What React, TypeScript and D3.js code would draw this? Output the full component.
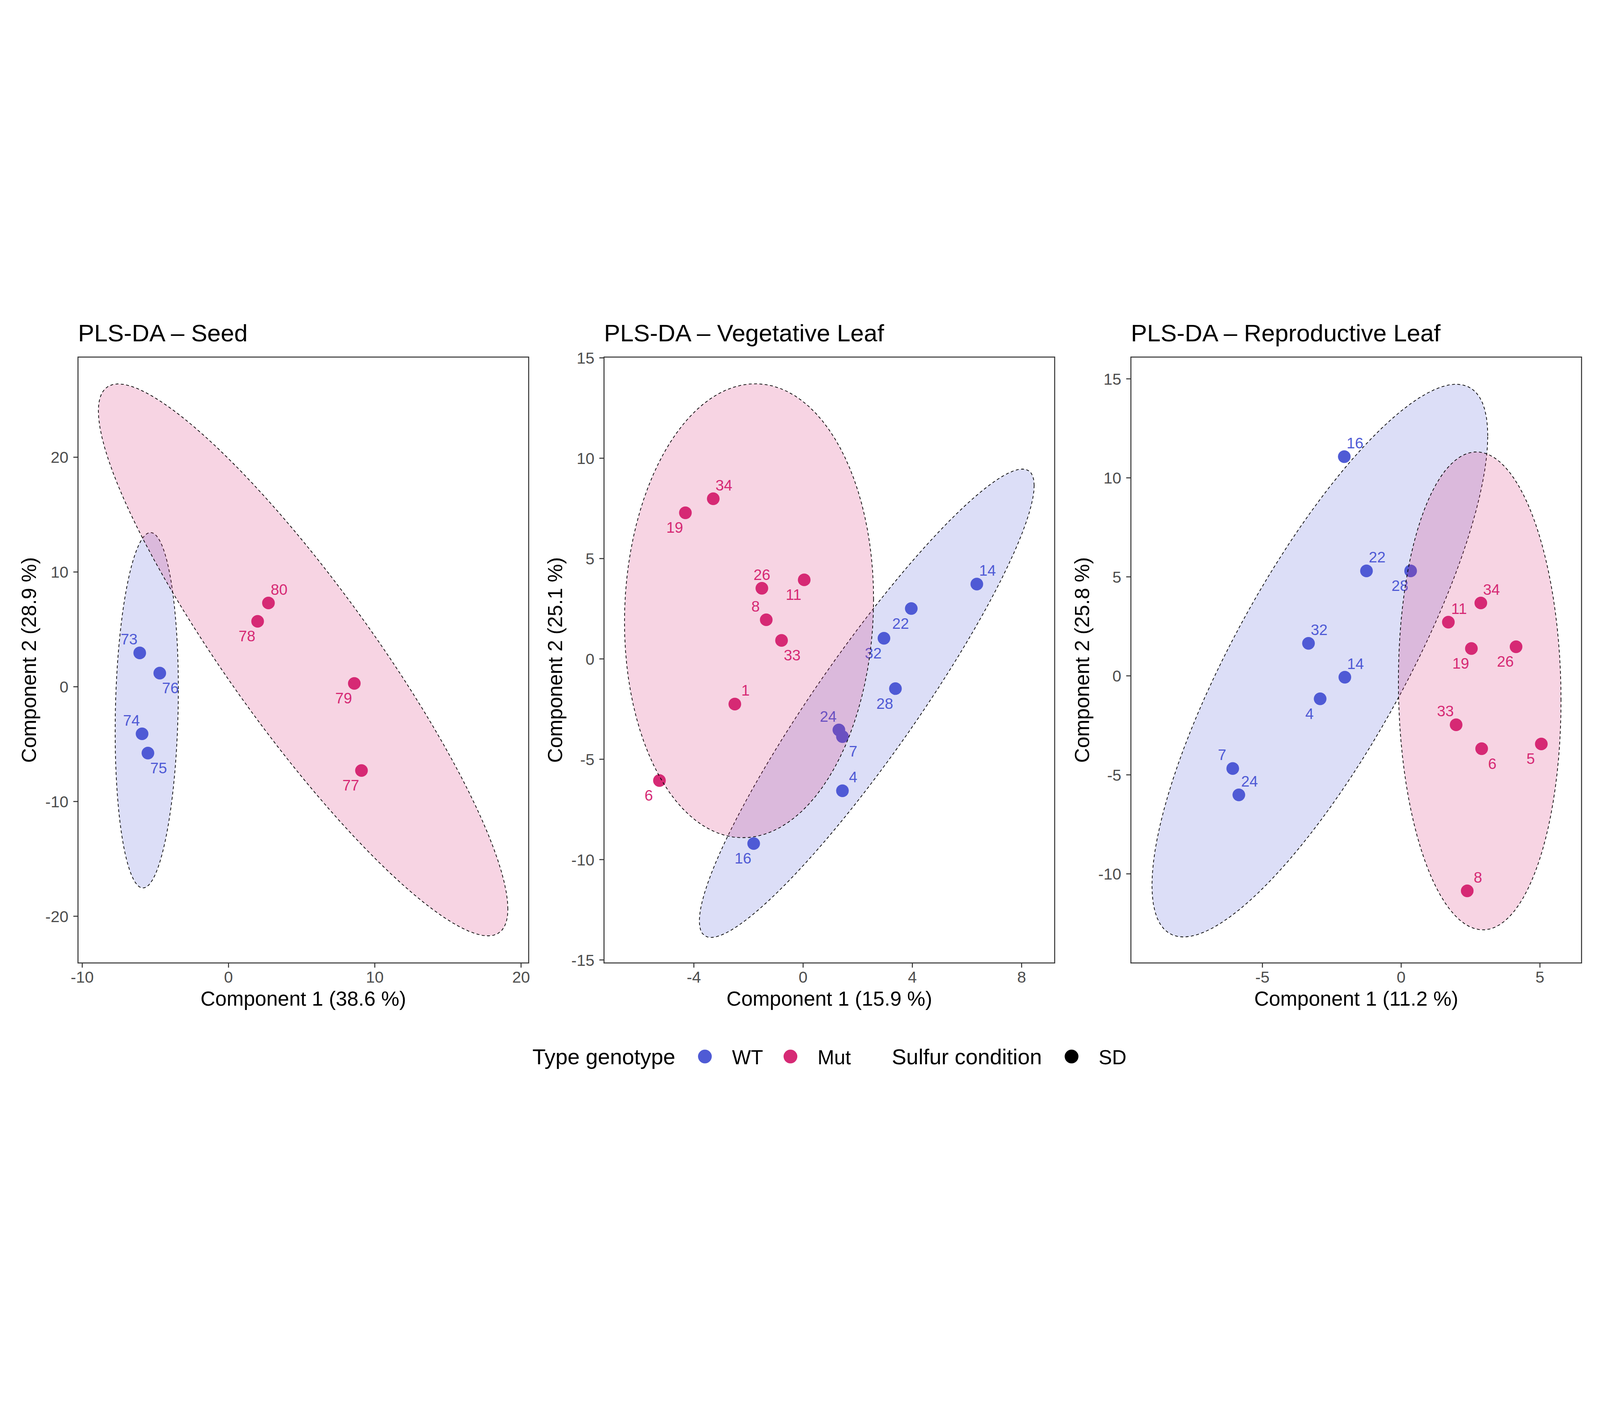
import * as d3 from 'd3';
import React from 'react';

// Sample scores
const seedIds = ['73', '76', '74', '75', '80', '78', '79', '77'];
const seedGenotype = ['WT', 'WT', 'WT', 'WT', 'Mut', 'Mut', 'Mut', 'Mut'];
const seedC1 = [-6.07, -4.70, -5.91, -5.51, 2.73, 1.99, 8.60, 9.09];
const seedC2 = [2.95, 1.19, -4.10, -5.78, 7.30, 5.70, 0.29, -7.30];
const seedLabelDir = ['ul', 'dr', 'ul', 'dr', 'ur', 'dl', 'dl', 'dl'];

const vegIds = ['34', '19', '26', '11', '8', '33', '1', '6', '16', '24', '7', '4', '28', '32', '22', '14'];
const vegGenotype = ['Mut', 'Mut', 'Mut', 'Mut', 'Mut', 'Mut', 'Mut', 'Mut', 'WT', 'WT', 'WT', 'WT', 'WT', 'WT', 'WT', 'WT'];
const vegC1 = [-3.29, -4.31, -1.51, 0.04, -1.35, -0.79, -2.50, -5.26, -1.81, 1.31, 1.44, 1.44, 3.38, 2.96, 3.96, 6.36];
const vegC2 = [7.98, 7.28, 3.52, 3.94, 1.95, 0.92, -2.25, -6.06, -9.20, -3.54, -3.87, -6.57, -1.48, 1.03, 2.51, 3.73];
const vegLabelDir = ['ur', 'dl', 'u', 'dl', 'ul', 'dr', 'ur', 'dl', 'dl', 'ul', 'dr', 'ur', 'dl', 'dl', 'dl', 'ur'];

const repIds = ['16', '22', '28', '32', '14', '4', '7', '24', '34', '11', '19', '26', '33', '6', '5', '8'];
const repGenotype = ['WT', 'WT', 'WT', 'WT', 'WT', 'WT', 'WT', 'WT', 'Mut', 'Mut', 'Mut', 'Mut', 'Mut', 'Mut', 'Mut', 'Mut'];
const repC1 = [-2.05, -1.25, 0.34, -3.34, -2.03, -2.92, -6.07, -5.85, 2.87, 1.70, 2.53, 4.14, 1.98, 2.90, 5.05, 2.38];
const repC2 = [11.07, 5.30, 5.30, 1.64, -0.07, -1.16, -4.68, -6.01, 3.68, 2.71, 1.38, 1.47, -2.47, -3.68, -3.44, -10.86];
const repLabelDir = ['ur', 'ur', 'dl', 'ur', 'ur', 'dl', 'ul', 'ur', 'ur', 'ur', 'dl', 'dl', 'ul', 'dr', 'dl', 'ur'];

// 95% ellipses: centre, spread along each component, correlation (WT first, then Mut)
const ellipseGroups = ['WT', 'Mut'];
const seedEllipse = { cx: [-5.59, 5.10], cy: [-2.05, 2.34], sx: [2.16, 14.0], sy: [15.49, 24.05], r: [0.12, -0.903] };
const vegEllipse = { cx: [2.33, -1.98], cy: [-2.21, 2.40], sx: [6.13, 4.56], sy: [11.67, 11.31], r: [0.93, 0.05] };
const repEllipse = { cx: [-2.93, 2.83], cy: [0.77, -0.76], sx: [6.05, 2.93], sy: [13.96, 12.07], r: [0.813, -0.04] };

const panelTitles = ['PLS-DA – Seed', 'PLS-DA – Vegetative Leaf', 'PLS-DA – Reproductive Leaf'];
const xTitles = ['Component 1 (38.6 %)', 'Component 1 (15.9 %)', 'Component 1 (11.2 %)'];
const yTitles = ['Component 2 (28.9 %)', 'Component 2 (25.1 %)', 'Component 2 (25.8 %)'];
const xDomains = [[-10.29, 20.52], [-7.29, 9.21], [-9.74, 6.5]];
const yDomains = [[-24.07, 28.73], [-15.15, 15.04], [-14.5, 16.1]];
const xTicks = [[-10, 0, 10, 20], [-4, 0, 4, 8], [-5, 0, 5]];
const yTicks = [[-20, -10, 0, 10, 20], [-15, -10, -5, 0, 5, 10, 15], [-10, -5, 0, 5, 10, 15]];

const colors: Record<string, string> = { WT: '#4f5bd5', Mut: '#d62a75' };
const font = '"Liberation Sans", Arial, Helvetica, sans-serif';

const W = 7200;
const H = 3600;
const panelLefts = [351, 2718, 5089];
const panelW = 2028;
const panelTop = 243;
const panelH = 2727;

interface PanelData {
  ids: string[];
  genotype: string[];
  c1: number[];
  c2: number[];
  labelDir: string[];
  ellipse: { cx: number[]; cy: number[]; sx: number[]; sy: number[]; r: number[] };
}

const panels: PanelData[] = [
  { ids: seedIds, genotype: seedGenotype, c1: seedC1, c2: seedC2, labelDir: seedLabelDir, ellipse: seedEllipse },
  { ids: vegIds, genotype: vegGenotype, c1: vegC1, c2: vegC2, labelDir: vegLabelDir, ellipse: vegEllipse },
  { ids: repIds, genotype: repGenotype, c1: repC1, c2: repC2, labelDir: repLabelDir, ellipse: repEllipse },
];

const ellipsePoints = (cx: number, cy: number, sx: number, sy: number, r: number): [number, number][] =>
  d3.range(0, 101).map((i) => {
    const t = (i / 100) * 2 * Math.PI;
    return [cx + sx * Math.cos(t), cy + sy * (r * Math.cos(t) + Math.sqrt(1 - r * r) * Math.sin(t))];
  });

const Panel = ({ index }: { index: number }): React.JSX.Element => {
  const p = panels[index];
  const left = panelLefts[index];
  const x = d3.scaleLinear().domain(xDomains[index]).range([left, left + panelW]);
  const y = d3.scaleLinear().domain(yDomains[index]).range([panelTop + panelH, panelTop]);
  const line = d3.line<[number, number]>().x((d) => x(d[0])).y((d) => y(d[1])).curve(d3.curveLinearClosed);

  return (
    <g>
      <text x={left} y={173} fontSize={109} fontFamily={font} fill="#000">{panelTitles[index]}</text>
      <defs>
        <clipPath id={`clip${index}`}>
          <rect x={left} y={panelTop} width={panelW} height={panelH} />
        </clipPath>
      </defs>
      <g clipPath={`url(#clip${index})`}>
        {p.ids.map((id, i) => (
          <circle key={`pt${id}`} cx={x(p.c1[i])} cy={y(p.c2[i])} r={28.5} fill={colors[p.genotype[i]]} />
        ))}
        {p.ids.map((id, i) => {
          const dir = p.labelDir[i];
          const dx = dir.includes('l') ? -48 : dir.includes('r') ? 48 : 0;
          const dy = dir.includes('u') ? -62 : 66;
          return (
            <text key={`lb${id}`} x={x(p.c1[i]) + dx} y={y(p.c2[i]) + dy} dy="0.36em" textAnchor="middle"
              fontSize={68} fontFamily={font} fill={colors[p.genotype[i]]}>{id}</text>
          );
        })}
        {ellipseGroups.map((g, k) => (
          <path key={`el${g}`}
            d={line(ellipsePoints(p.ellipse.cx[k], p.ellipse.cy[k], p.ellipse.sx[k], p.ellipse.sy[k], p.ellipse.r[k])) ?? ''}
            fill={colors[g]} fillOpacity={0.2} stroke="#000" strokeWidth={3.2} strokeDasharray="13 11" />
        ))}
      </g>
      <rect x={left} y={panelTop} width={panelW} height={panelH} fill="none" stroke="#333333" strokeWidth={4.5} />
      {xTicks[index].map((t) => (
        <g key={`xt${t}`}>
          <line x1={x(t)} x2={x(t)} y1={panelTop + panelH} y2={panelTop + panelH + 21} stroke="#333333" strokeWidth={4.5} />
          <text x={x(t)} y={3058} textAnchor="middle" fontSize={72} fontFamily={font} fill="#4d4d4d">{t}</text>
        </g>
      ))}
      {yTicks[index].map((t) => (
        <g key={`yt${t}`}>
          <line x1={left - 21} x2={left} y1={y(t)} y2={y(t)} stroke="#333333" strokeWidth={4.5} />
          <text x={left - 43} y={y(t)} dy="0.36em" textAnchor="end" fontSize={72} fontFamily={font} fill="#4d4d4d">{t}</text>
        </g>
      ))}
      <text x={left + panelW / 2} y={3163} textAnchor="middle" fontSize={92} fontFamily={font} fill="#000">{xTitles[index]}</text>
      <text transform={`translate(${left - 189},${panelTop + panelH / 2}) rotate(-90)`} textAnchor="middle"
        fontSize={92} fontFamily={font} fill="#000">{yTitles[index]}</text>
    </g>
  );
};

const legendItems = [
  { kind: 'title', label: 'Type genotype', x: 2396 },
  { kind: 'key', label: 'WT', x: 3172, color: colors.WT },
  { kind: 'key', label: 'Mut', x: 3557, color: colors.Mut },
  { kind: 'title', label: 'Sulfur condition', x: 4013 },
  { kind: 'key', label: 'SD', x: 4822, color: '#000' },
];

export default function App(): React.JSX.Element {
  return (
    <svg viewBox={`0 0 ${W} ${H}`} preserveAspectRatio="xMidYMid meet"
      style={{ position: 'fixed', left: 0, top: 0, width: '100vw', height: '100vh', background: '#fff' }}>
      <rect width={W} height={H} fill="#fff" />
      {panels.map((_, i) => <Panel key={i} index={i} />)}
      <g>
        {legendItems.map((it) => it.kind === 'title' ? (
          <text key={it.label} x={it.x} y={3426} fontSize={98} fontFamily={font} fill="#000">{it.label}</text>
        ) : (
          <g key={it.label}>
            <circle cx={it.x} cy={3391} r={31} fill={it.color} />
            <text x={it.x + 122} y={3426} fontSize={90} fontFamily={font} fill="#000">{it.label}</text>
          </g>
        ))}
      </g>
    </svg>
  );
}
